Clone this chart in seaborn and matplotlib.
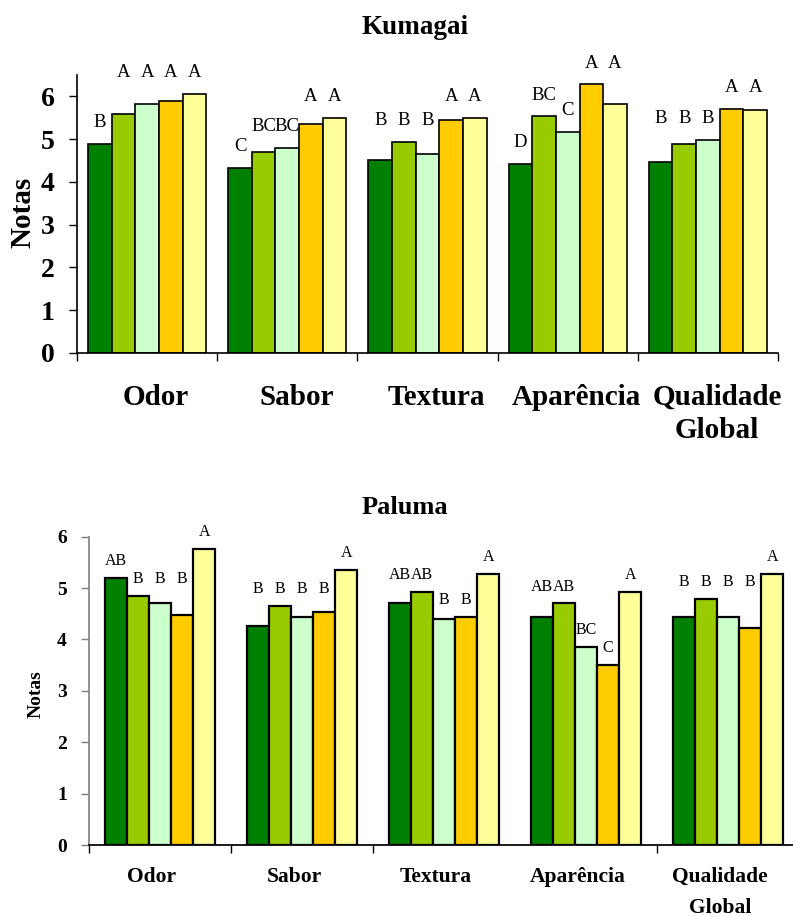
import numpy as np
import pandas as pd
import matplotlib
matplotlib.use("Agg")
import matplotlib.pyplot as plt
from matplotlib.transforms import ScaledTranslation
import seaborn as sns

# ---------------- data ----------------
categories = ["Odor", "Sabor", "Textura", "Aparência", "Qualidade\nGlobal"]
treatments = ["T1", "T2", "T3", "T4", "T5"]
colors = ["#008000", "#99CC00", "#CCFFCC", "#FFCC00", "#FFFF99"]

# Kumagai: values per category (T1..T5)
kumagai_odor = [4.89, 5.58, 5.82, 5.90, 6.05]
kumagai_sabor = [4.33, 4.69, 4.80, 5.35, 5.49]
kumagai_textura = [4.51, 4.94, 4.66, 5.45, 5.50]
kumagai_aparencia = [4.42, 5.53, 5.17, 6.28, 5.82]
kumagai_global = [4.47, 4.88, 4.98, 5.71, 5.68]
kumagai_letters = [
    ["B", "A", "A", "A", "A"],
    ["C", "BC", "BC", "A", "A"],
    ["B", "B", "B", "A", "A"],
    ["D", "BC", "C", "A", "A"],
    ["B", "B", "B", "A", "A"],
]

# Paluma
paluma_odor = [5.19, 4.84, 4.70, 4.48, 5.76]
paluma_sabor = [4.26, 4.66, 4.44, 4.53, 5.36]
paluma_textura = [4.71, 4.92, 4.39, 4.43, 5.28]
paluma_aparencia = [4.43, 4.70, 3.86, 3.50, 4.92]
paluma_global = [4.43, 4.79, 4.43, 4.22, 5.28]
paluma_letters = [
    ["AB", "B", "B", "B", "A"],
    ["B", "B", "B", "B", "A"],
    ["AB", "AB", "B", "B", "A"],
    ["AB", "AB", "BC", "C", "A"],
    ["B", "B", "B", "B", "A"],
]


def make_df(rows):
    recs = []
    for cat, vals in zip(categories, rows):
        for t, v in zip(treatments, vals):
            recs.append({"Categoria": cat, "Tratamento": t, "Nota": v})
    return pd.DataFrame(recs)


df_k = make_df([kumagai_odor, kumagai_sabor, kumagai_textura, kumagai_aparencia, kumagai_global])
df_p = make_df([paluma_odor, paluma_sabor, paluma_textura, paluma_aparencia, paluma_global])

# ---------------- style ----------------
sns.set_theme(style="white")
plt.rcParams["font.family"] = ["Liberation Serif", "DejaVu Serif"]
for key in ["text.color", "axes.labelcolor", "xtick.color", "ytick.color", "axes.edgecolor"]:
    plt.rcParams[key] = "black"

W, H = 793, 917
fig = plt.figure(figsize=(W / 100, H / 100), dpi=100)

ax1 = fig.add_axes([77 / W, 1 - 353 / H, (778 - 77) / W, (353 - 75) / H])
ax2 = fig.add_axes([89 / W, 1 - 845 / H, 710 / W, (845 - 536.7) / H])


def draw(ax, df, letters, width, lw, ylim, ytick_size, xlab_size, xlab_pad,
         letter_size, letter_offset, xshift, linesp, major_ticks):
    sns.barplot(data=df, x="Categoria", y="Nota", hue="Tratamento",
                palette=colors, width=width, edgecolor="black", linewidth=lw,
                saturation=1, legend=False, ax=ax, errorbar=None)
    ax.set_xlim(-0.5, 4.5)
    ax.set_ylim(*ylim)
    ax.set_yticks(range(0, 7))
    ax.set_xlabel("")
    ax.set_ylabel("")
    sns.despine(ax=ax)
    # boundaries as major ticks, category names as minor tick labels
    ax.set_xticks(major_ticks)
    ax.set_xticklabels([""] * len(major_ticks))
    ax.set_xticks(range(len(categories)), minor=True)
    ax.set_xticklabels(categories, minor=True, fontsize=xlab_size,
                       fontweight="bold", linespacing=linesp, color="black")
    ax.tick_params(axis="x", which="major", direction="out", length=6,
                   width=1, color="black", bottom=True)
    ax.tick_params(axis="x", which="minor", length=0, pad=xlab_pad)
    for lbl in ax.get_xticklabels(minor=True):
        lbl.set_transform(lbl.get_transform() +
                          ScaledTranslation(xshift / 100, 0, fig.dpi_scale_trans))
    ax.tick_params(axis="y", direction="out", length=6, width=1,
                   labelsize=ytick_size, pad=10, left=True, labelcolor="black")
    for t in ax.get_yticklabels():
        t.set_fontweight("bold")
    # significance letters above the bars
    for j, cont in enumerate(ax.containers):
        for i, bar in enumerate(cont):
            letter = letters[i][j]
            same = [ax.containers[k][i].get_height() for k in range(len(treatments))
                    if letters[i][k] == letter]
            y = max(same) + letter_offset
            ax.text(bar.get_x() + bar.get_width() / 2, y, letter,
                    ha="center", va="center", fontsize=letter_size,
                    color="black")


draw(ax1, df_k, kumagai_letters, width=0.843, lw=1.2, ylim=(0, 6.5),
     ytick_size=20, xlab_size=21, xlab_pad=22, letter_size=13.5,
     letter_offset=0.5, xshift=9, linesp=1.3,
     major_ticks=[-0.5, 0.5, 1.5, 2.5, 3.5, 4.5])
draw(ax2, df_p, paluma_letters, width=0.78, lw=1.6, ylim=(0, 6),
     ytick_size=14, xlab_size=15.5, xlab_pad=16, letter_size=11.5,
     letter_offset=0.33, xshift=-8, linesp=1.75,
     major_ticks=[-0.5, 0.5, 1.5, 3.5, 4.5])

for sp in ["left", "bottom"]:
    ax1.spines[sp].set_color("black")
    ax1.spines[sp].set_linewidth(1.2)
ax2.spines["bottom"].set_color("black")
ax2.spines["left"].set_color("#7f7f7f")
ax2.spines["left"].set_linewidth(1.2)
ax2.tick_params(axis="y", color="#7f7f7f")

fig.text(23 / W, 1 - 212 / H, "Notas", rotation=90, ha="center", va="center",
         fontsize=21, fontweight="bold", color="black")
fig.text(36 / W, 1 - 694 / H, "Notas", rotation=90, ha="center", va="center",
         fontsize=14, fontweight="bold", color="black")
fig.text(415 / W, 1 - 27 / H, "Kumagai", ha="center", va="center",
         fontsize=19.5, fontweight="bold", color="black")
fig.text(405 / W, 1 - 508 / H, "Paluma", ha="center", va="center",
         fontsize=19, fontweight="bold", color="black")

fig.savefig("out.png", dpi=100, facecolor="white")
